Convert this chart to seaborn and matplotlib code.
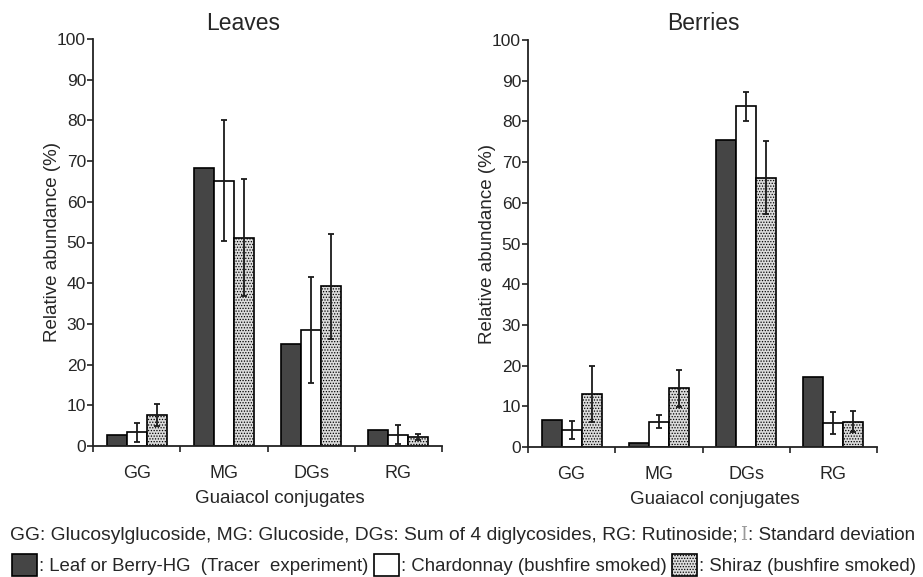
import numpy as np
import pandas as pd
import matplotlib
matplotlib.use("Agg")
import matplotlib.pyplot as plt
import seaborn as sns

# Data
categories = ["GG", "MG", "DGs", "RG"]
series = ["Leaf or Berry-HG  (Tracer  experiment)",
          "Chardonnay (bushfire smoked)",
          "Shiraz (bushfire smoked)"]

leaves_hg = [2.8, 68.4, 25.1, 4.0]
leaves_chard = [3.4, 65.2, 28.6, 2.8]
leaves_chard_sd = [2.3, 14.9, 13.0, 2.4]
leaves_shiraz = [7.5, 51.2, 39.2, 2.2]
leaves_shiraz_sd = [2.7, 14.3, 12.9, 0.7]

berries_hg = [6.6, 1.0, 75.4, 17.1]
berries_chard = [4.2, 6.2, 83.7, 5.9]
berries_chard_sd = [2.2, 1.6, 3.6, 2.6]
berries_shiraz = [13.0, 14.4, 66.2, 6.2]
berries_shiraz_sd = [6.9, 4.6, 9.0, 2.6]

sns.set_style("ticks")
plt.rcParams["font.family"] = ["Liberation Sans", "DejaVu Sans"]
plt.rcParams["hatch.linewidth"] = 0.6

palette = {series[0]: "#454545", series[1]: "white", series[2]: "#dcdcdc"}


def make_df(hg, chard, shiraz):
    rows = []
    for vals, name in zip([hg, chard, shiraz], series):
        for c, v in zip(categories, vals):
            rows.append({"conjugate": c, "sample": name, "abundance": v})
    return pd.DataFrame(rows)


fig = plt.figure(figsize=(9.23, 5.77), dpi=100)
ax_l = fig.add_axes([93 / 923, 1 - 446 / 577, 349 / 923, 407 / 577])
ax_r = fig.add_axes([528 / 923, 1 - 447 / 577, 349 / 923, 407 / 577])

panels = [
    (ax_l, "Leaves", 243, make_df(leaves_hg, leaves_chard, leaves_shiraz),
     [None, leaves_chard_sd, leaves_shiraz_sd]),
    (ax_r, "Berries", 703, make_df(berries_hg, berries_chard, berries_shiraz),
     [None, berries_chard_sd, berries_shiraz_sd]),
]

for ax, title, tx, df, sds in panels:
    sns.barplot(data=df, x="conjugate", y="abundance", hue="sample",
                order=categories, hue_order=series, palette=palette,
                saturation=1, width=0.69, edgecolor="black", linewidth=1.2,
                errorbar=None, legend=False, ax=ax)
    for bar in ax.containers[2]:
        bar.set_hatch("......")
    for cont, sd in zip(ax.containers, sds):
        if sd is None:
            continue
        xs = [b.get_x() + b.get_width() / 2 for b in cont]
        ys = [b.get_height() for b in cont]
        ax.errorbar(xs, ys, yerr=sd, fmt="none", ecolor="#1a1a1a",
                    elinewidth=1.3, capsize=2.5, capthick=1.3, zorder=5)

    ax.set_xlim(-0.5, 3.5)
    ax.set_ylim(0, 100)
    ax.set_yticks(np.arange(0, 101, 10))
    ax.set_xticks(np.arange(-0.5, 4, 1), minor=True)
    ax.tick_params(axis="x", which="major", length=0, pad=14, labelsize=13)
    ax.tick_params(axis="x", which="minor", length=4, width=1.2,
                   direction="out", color="#222")
    ax.tick_params(axis="y", length=4, width=1.2, pad=1, labelsize=12.5,
                   color="#222")
    for s in ["top", "right"]:
        ax.spines[s].set_visible(False)
    for s in ["left", "bottom"]:
        ax.spines[s].set_linewidth(1.3)
        ax.spines[s].set_color("#222")
    ax.set_xlabel("Guaiacol conjugates", fontsize=13.5)
    ax.set_ylabel("Relative abundance (%)", fontsize=13.5)
    ax.xaxis.set_label_coords(0.536, -0.108)
    ax.yaxis.set_label_coords(-0.092, 0.5)
    fig.text(tx / 923, 0.960, title, ha="center", va="center", fontsize=16.5)

# Caption line
cap_y = 1 - 535 / 577
fig.text(738 / 923, cap_y,
         "GG: Glucosylglucoside, MG: Glucoside, DGs: Sum of 4 diglycosides, RG: Rutinoside;",
         ha="right", va="center", fontsize=13.9)
fig.text(744 / 923, cap_y, "I", family="DejaVu Serif", color="#999999",
         ha="center", va="center", fontsize=13, fontweight="light")
fig.text(748 / 923, cap_y, ": Standard deviation", ha="left", va="center",
         fontsize=13.6)

# Legend line
handles = [ax_l.containers[i][0] for i in range(3)]
fig.legend(handles, [": " + s for s in series], loc="center left",
           bbox_to_anchor=(12 / 923, 1 - 565 / 577), ncol=3, frameon=False,
           fontsize=13.4, handlelength=1.35, handleheight=1.5,
           handletextpad=0.1, columnspacing=0.3, borderaxespad=0,
           borderpad=0)

fig.savefig("out.png", dpi=100)
